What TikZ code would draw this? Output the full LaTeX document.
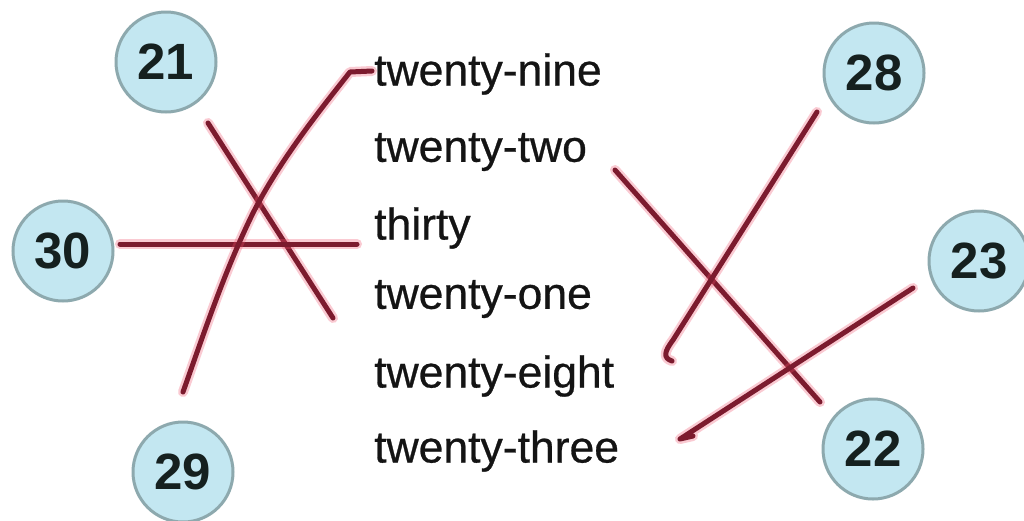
\documentclass[tikz,border=0pt]{standalone}
\usepackage{fontspec}
\setmainfont{Liberation Sans}
\newfontfamily\wordfont[FakeBold=0.6]{Liberation Sans}
\begin{document}
\begin{tikzpicture}[x=1pt,y=-1pt,
  num/.style={circle,draw=numborder,line width=3pt,fill=numfill,minimum size=100pt,inner sep=0pt,
    font=\fontsize{51}{51}\selectfont\bfseries,text=numtext},
  word/.style={anchor=west,inner sep=0pt,font=\wordfont\fontsize{44.5}{44.5}\selectfont,text=black!92},
  pen/.style={draw=inkdark,line width=5pt,line cap=round,line join=round,
    preaction={draw=inkglow,line width=10pt,line cap=round,line join=round,opacity=0.3}}]
\definecolor{numfill}{HTML}{C3E7F1}
\definecolor{numborder}{HTML}{8DA9AE}
\definecolor{numtext}{HTML}{15201F}
\definecolor{inkdark}{HTML}{7C1B2E}
\definecolor{inkglow}{HTML}{F0506A}
\useasboundingbox (0,0) rectangle (1024,520);
\fill[white] (0,0) rectangle (1024,520);
% number circles
\node[num] (n21) at (166,62) {21};
\node[num] (n30) at (63,251) {30};
\node[num] (n29) at (183,472) {29};
\node[num] (n28) at (874,73) {28};
\node[num] (n23) at (979,261) {23};
\node[num] (n22) at (873,449) {22};
% words
\node[word] (w29) at (374,74) {twenty-nine};
\node[word] (w22) at (374,152) {twenty-two};
\node[word] (w30) at (374,228) {thirty};
\node[word] (w21) at (374,299) {twenty-one};
\node[word] (w28) at (374,376) {twenty-eight};
\node[word] (w23) at (374,451) {twenty-three};
% line ends
\coordinate (a21) at (208,123);
\coordinate (b21) at (333,318);
\coordinate (a29) at (183,392);
\coordinate (b29) at (372,71);
\coordinate (a30) at (120,244);
\coordinate (b30) at (357,244);
\coordinate (a22) at (615,170);
\coordinate (b22) at (820,402);
\coordinate (a28) at (817,112);
\coordinate (b28) at (672,361);
\coordinate (a23) at (913,288);
\coordinate (b23) at (693,436);
% connectors
\path[pen] (a21) -- (b21);
\path[pen] (a30) -- (b30);
\path[pen] (a29) .. controls (205,330) and (225,270) .. (253,213)
  .. controls (280,160) and (320,110) .. (350,72) -- (b29);
\path[pen] (a22) -- (b22);
\path[pen] (a28) -- (673,340) .. controls (664,352) and (663,358) .. (b28);
\path[pen] (a23) -- (680,439) -- (b23);
\end{tikzpicture}
\end{document}
